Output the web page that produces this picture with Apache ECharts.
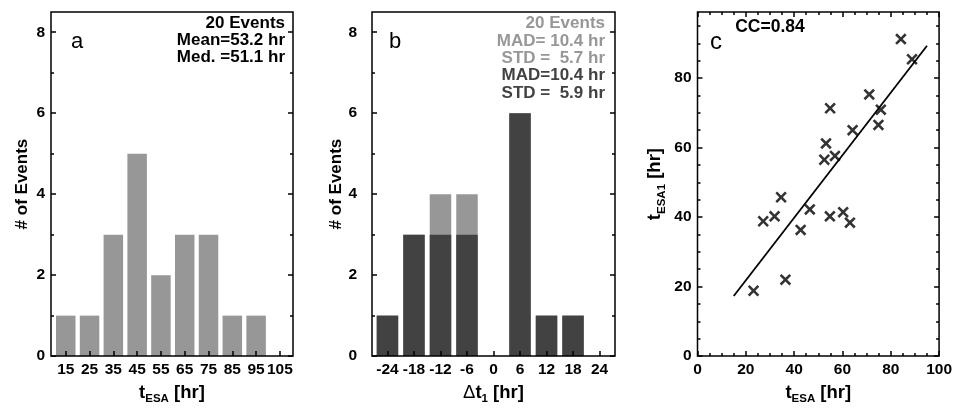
<!DOCTYPE html>
<html><head><meta charset="utf-8">
<script src="https://cdn.jsdelivr.net/npm/echarts@6/dist/echarts.min.js"></script>
<style>html,body{margin:0;padding:0;background:#fff}#c{width:955px;height:410px}</style>
</head><body><div id="c"></div>
<script>
// ---- data ----
const histACenters = [15, 25, 35, 45, 55, 65, 75, 85, 95, 105];
const histACounts  = [1, 1, 3, 5, 2, 3, 3, 1, 1, 0];
const histBCenters = [-24, -18, -12, -6, 0, 6, 12, 18, 24];
const histBAll     = [1, 3, 4, 4, 0, 6, 1, 1, 0];
const histBSub     = [1, 3, 3, 3, 0, 6, 1, 1, 0];
const countTicks      = [0, 2, 4, 6, 8];
const countMinorTicks = [1, 3, 5, 7];
const scatterX = [23.2, 36.4, 27.2, 31.9, 34.6, 42.7, 46.5, 84.2, 88.8, 71.1, 54.9, 75.9, 74.9, 64.2, 53.2, 52.5, 56.9, 54.8, 60.3, 63.1];
const scatterY = [18.8, 22.0, 38.8, 40.2, 45.7, 36.3, 42.2, 91.2, 85.4, 75.3, 71.3, 70.9, 66.5, 65.0, 61.2, 56.5, 57.6, 40.2, 41.4, 38.4];
const fitX = [15, 95];
const fitY = [17.3, 89.3];
const cXTicks = [0, 20, 40, 60, 80, 100];
const cYTicks = [0, 20, 40, 60, 80];
const cMinorTicks = [5, 10, 15, 25, 30, 35, 45, 50, 55, 65, 70, 75, 85, 90, 95];
const textA = ['20 Events', 'Mean=53.2 hr', 'Med. =51.1 hr'];
const textB = ['20 Events', 'MAD= 10.4 hr', 'STD =  5.7 hr', 'MAD=10.4 hr', 'STD =  5.9 hr'];
const textC = 'CC=0.84';

// ---- styling ----
const FONT = '"Liberation Sans", Arial, Helvetica, sans-serif';
const LIGHT = '#979797';
const DARK = '#424242';

function ticks(values, len) {
  return { show: true, inside: true, length: len, customValues: values, lineStyle: { color: '#000', width: 1.5 } };
}
function labels(values) {
  return { show: true, customValues: values, color: '#000', fontFamily: FONT, fontWeight: 'bold', fontSize: 15.5, margin: 6 };
}
function ax(o) {
  return Object.assign({ type: 'value', axisLine: { show: false, onZero: false }, splitLine: { show: false },
    axisLabel: { show: false }, axisTick: { show: false }, z: 10 }, o);
}
const rich = {
  m: { fontFamily: FONT, fontWeight: 'bold', fontSize: 18.5, color: '#000', verticalAlign: 'top', lineHeight: 22 },
  n: { fontFamily: FONT, fontWeight: 'normal', fontSize: 18.5, color: '#000', verticalAlign: 'top', lineHeight: 22 },
  s: { fontFamily: FONT, fontWeight: 'bold', fontSize: 11.5, color: '#000', verticalAlign: 'top', lineHeight: 22, padding: [10, 0, 0, 0] }
};
const yName = { fontFamily: FONT, fontWeight: 'bold', fontSize: 17, color: '#000' };

const gridStyle = { show: true, borderColor: '#000', borderWidth: 1.5, backgroundColor: 'transparent', z: 10 };

const option = {
  animation: false,
  grid: [
    Object.assign({ left: 51, right: 662, top: 12, bottom: 46 }, gridStyle),
    Object.assign({ left: 372, right: 340, top: 12, bottom: 46 }, gridStyle),
    Object.assign({ left: 697.5, right: 15, top: 12, bottom: 46 }, gridStyle)
  ],
  xAxis: [
    ax({ gridIndex: 0, min: 8.8, max: 110.5, position: 'bottom', axisTick: ticks(histACenters, 5), axisLabel: labels(histACenters),
      name: '{m|t}{s|ESA}{m| [hr]}', nameLocation: 'middle', nameGap: 20, nameTextStyle: { rich } }),
    ax({ gridIndex: 1, min: -27.5, max: 27.5, position: 'bottom', axisTick: ticks(histBCenters, 5), axisLabel: labels(histBCenters),
      name: '{n|Δ}{m|t}{s|1}{m| [hr]}', nameLocation: 'middle', nameGap: 20, nameTextStyle: { rich } }),
    ax({ gridIndex: 2, min: 0, max: 100, position: 'bottom', axisTick: ticks(cXTicks, 5), axisLabel: labels(cXTicks),
      name: '{m|t}{s|ESA}{m| [hr]}', nameLocation: 'middle', nameGap: 20, nameTextStyle: { rich } }),
    ax({ gridIndex: 2, min: 0, max: 100, position: 'bottom', axisTick: ticks(cMinorTicks, 3) }),
    ax({ gridIndex: 2, min: 0, max: 100, position: 'top', axisTick: ticks(cXTicks, 5) }),
    ax({ gridIndex: 2, min: 0, max: 100, position: 'top', axisTick: ticks(cMinorTicks, 3) })
  ],
  yAxis: [
    ax({ gridIndex: 0, min: 0, max: 8.5, position: 'left', axisTick: ticks(countTicks, 5), axisLabel: labels(countTicks),
      name: '# of Events', nameLocation: 'middle', nameGap: 20, nameTextStyle: yName }),
    ax({ gridIndex: 0, min: 0, max: 8.5, position: 'left', axisTick: ticks(countMinorTicks, 3) }),
    ax({ gridIndex: 0, min: 0, max: 8.5, position: 'right', axisTick: ticks(countTicks, 5) }),
    ax({ gridIndex: 0, min: 0, max: 8.5, position: 'right', axisTick: ticks(countMinorTicks, 3) }),
    ax({ gridIndex: 1, min: 0, max: 8.5, position: 'left', axisTick: ticks(countTicks, 5), axisLabel: Object.assign(labels(countTicks), { margin: 15 }),
      name: '# of Events', nameLocation: 'middle', nameGap: 23, nameTextStyle: yName }),
    ax({ gridIndex: 1, min: 0, max: 8.5, position: 'left', axisTick: ticks(countMinorTicks, 3) }),
    ax({ gridIndex: 1, min: 0, max: 8.5, position: 'right', axisTick: ticks(countTicks, 5) }),
    ax({ gridIndex: 1, min: 0, max: 8.5, position: 'right', axisTick: ticks(countMinorTicks, 3) }),
    ax({ gridIndex: 2, min: 0, max: 99, position: 'left', axisTick: ticks(cYTicks, 5), axisLabel: labels(cYTicks),
      name: '{m|t}{s|ESA1}{m| [hr]}', nameLocation: 'middle', nameGap: 30, nameTextStyle: { rich } }),
    ax({ gridIndex: 2, min: 0, max: 99, position: 'left', axisTick: ticks(cMinorTicks, 3) }),
    ax({ gridIndex: 2, min: 0, max: 99, position: 'right', axisTick: ticks(cYTicks, 5) }),
    ax({ gridIndex: 2, min: 0, max: 99, position: 'right', axisTick: ticks(cMinorTicks, 3) })
  ],
  series: [
    { type: 'bar', xAxisIndex: 0, yAxisIndex: 0, barWidth: 19.5, itemStyle: { color: LIGHT },
      data: histACenters.map((c, i) => [c, histACounts[i]]) },
    { type: 'bar', xAxisIndex: 1, yAxisIndex: 4, barWidth: 21.5, barGap: '-100%', itemStyle: { color: LIGHT },
      data: histBCenters.map((c, i) => [c, histBAll[i]]) },
    { type: 'bar', xAxisIndex: 1, yAxisIndex: 4, barWidth: 21.5, barGap: '-100%', itemStyle: { color: DARK },
      data: histBCenters.map((c, i) => [c, histBSub[i]]) },
    { type: 'line', xAxisIndex: 2, yAxisIndex: 8, symbol: 'none', lineStyle: { color: '#000', width: 1.8 },
      data: fitX.map((x, i) => [x, fitY[i]]) },
    { type: 'scatter', xAxisIndex: 2, yAxisIndex: 8, symbolSize: 11.5,
      symbol: 'path://M0,1.6L1.6,0L5,3.4L8.4,0L10,1.6L6.6,5L10,8.4L8.4,10L5,6.6L1.6,10L0,8.4L3.4,5Z',
      itemStyle: { color: '#000' }, data: scatterX.map((x, i) => [x, scatterY[i]]) }
  ],
  graphic: [
    { type: 'text', x: 77, y: 42, style: { text: 'a', font: 'normal 22px ' + FONT, fill: '#000', align: 'center', verticalAlign: 'middle' } },
    { type: 'text', x: 395, y: 42, style: { text: 'b', font: 'normal 22px ' + FONT, fill: '#000', align: 'center', verticalAlign: 'middle' } },
    { type: 'text', x: 716, y: 42, style: { text: 'c', font: 'normal 24px ' + FONT, fill: '#000', align: 'center', verticalAlign: 'middle' } },
    { type: 'text', x: 770, y: 27.5, style: { text: textC, font: 'bold 17.5px ' + FONT, fill: '#000', align: 'center', verticalAlign: 'middle' } }
  ].concat(textA.map((t, i) => ({ type: 'text', x: 285, y: 23.5 + i * 17, z: 20,
      style: { text: t, font: 'bold 17px ' + FONT, fill: '#000', align: 'right', verticalAlign: 'middle' } })))
   .concat(textB.map((t, i) => ({ type: 'text', x: 605, y: 23.5 + i * 17.4, z: 20,
      style: { text: t, font: 'bold 17px ' + FONT, fill: i < 3 ? LIGHT : DARK, align: 'right', verticalAlign: 'middle' } })))
};
const chart = echarts.init(document.getElementById('c'), null, { renderer: 'canvas' });
chart.setOption(option);
</script>
</body></html>
